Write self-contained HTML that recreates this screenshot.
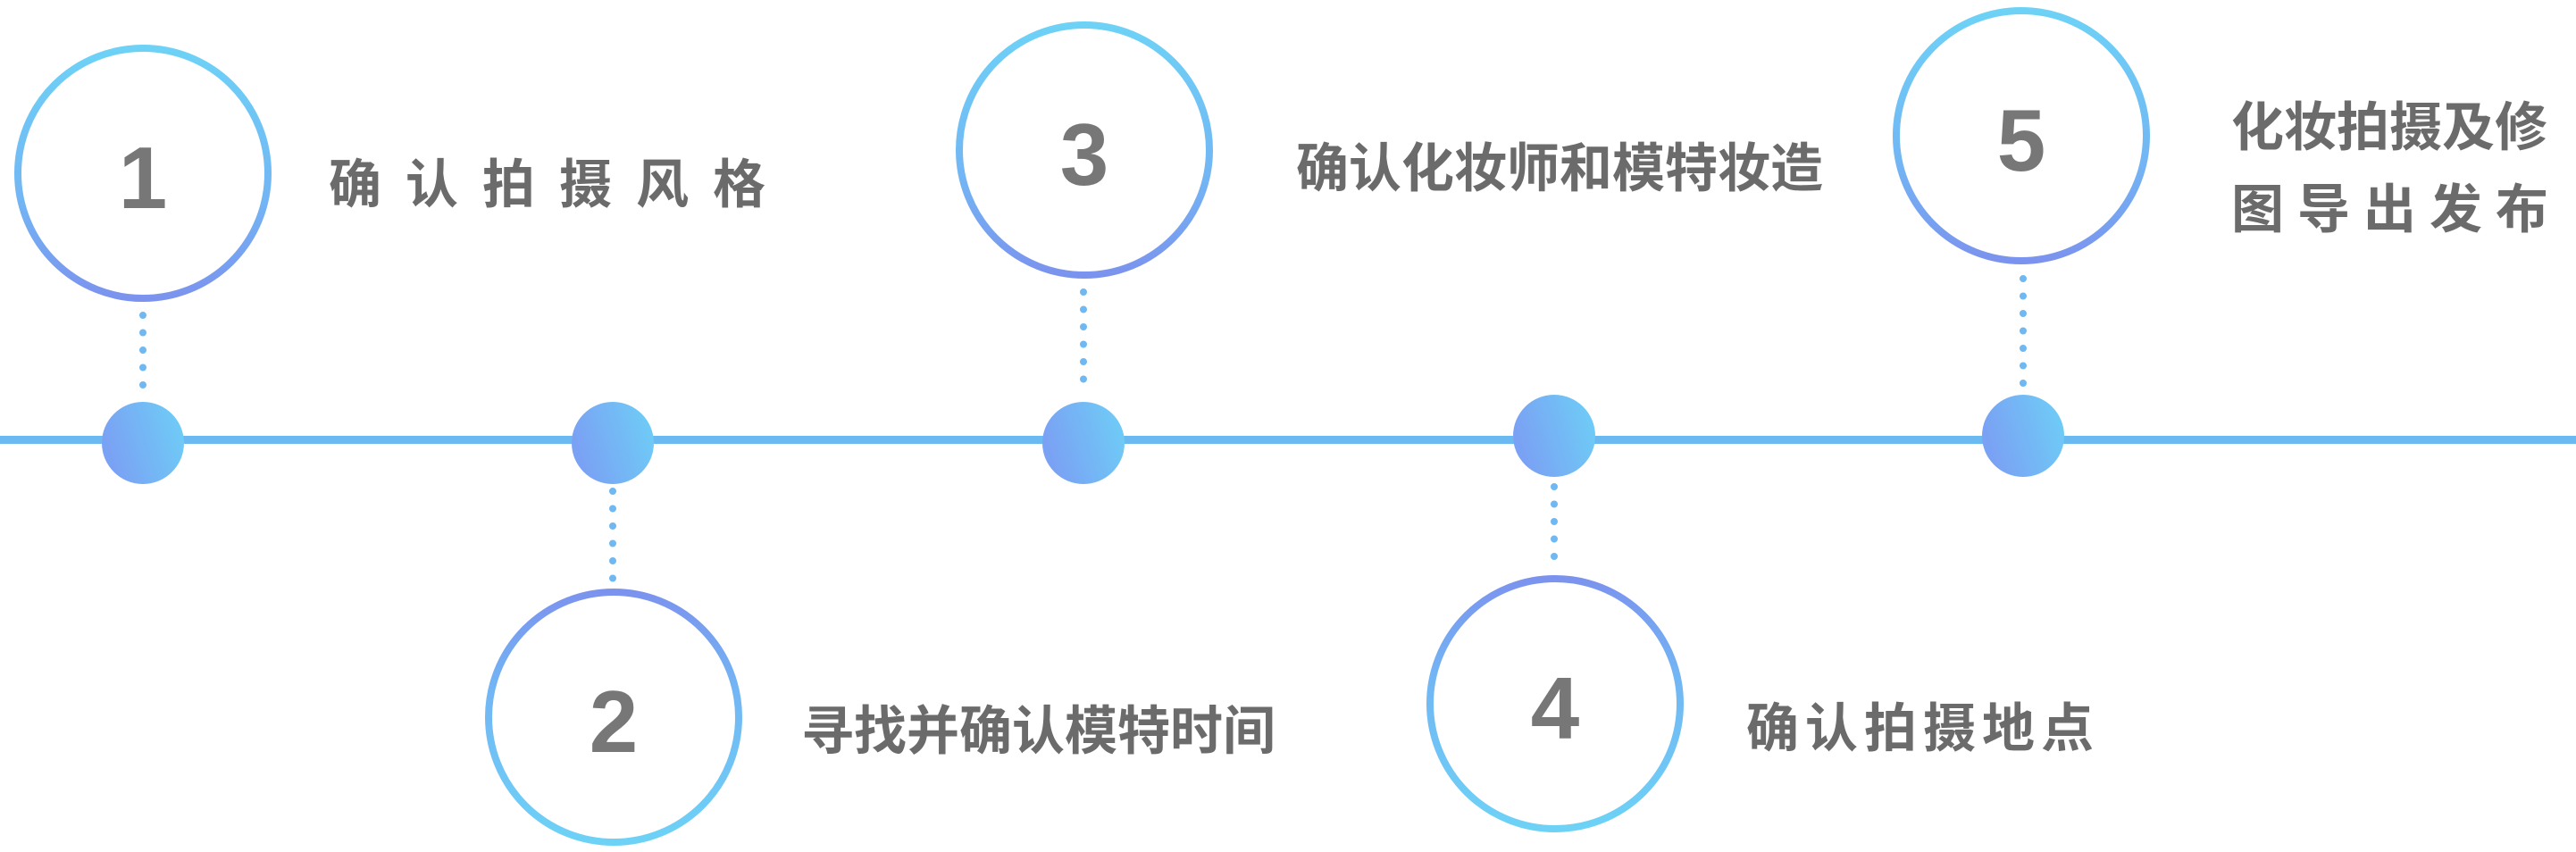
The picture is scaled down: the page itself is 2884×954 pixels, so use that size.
<!DOCTYPE html>
<html><head><meta charset="utf-8"><style>
html,body{margin:0;padding:0;background:#fff;}
svg{display:block;}
text{font-family:"Liberation Sans","Noto Sans CJK SC",sans-serif;font-weight:bold;fill:#6b6b6b;}
</style></head><body>
<svg width="2884" height="954" viewBox="0 0 2884 954" xmlns="http://www.w3.org/2000/svg">
<defs>
<linearGradient id="gt" x1="0" y1="0" x2="0" y2="1"><stop offset="0" stop-color="#6dd2f6"/><stop offset="0.6" stop-color="#72b6f4"/><stop offset="1" stop-color="#7b93ee"/></linearGradient>
<linearGradient id="gb" x1="0" y1="0" x2="0" y2="1"><stop offset="0" stop-color="#7b93ee"/><stop offset="0.4" stop-color="#72b6f4"/><stop offset="1" stop-color="#6dd2f6"/></linearGradient>
<linearGradient id="gd" x1="0" y1="0.3" x2="1" y2="0"><stop offset="0" stop-color="#7aa2f4"/><stop offset="1" stop-color="#6dd0f6"/></linearGradient>
</defs>
<rect x="0" y="488" width="2884" height="9" fill="#6bb9f1"/>
<g stroke="#6fb8f2" stroke-width="8" stroke-linecap="round" stroke-dasharray="0 19.5" fill="none">
<line x1="160" y1="353" x2="160" y2="440"/>
<line x1="1213" y1="327" x2="1213" y2="440"/>
<line x1="2265" y1="312" x2="2265" y2="432"/>
<line x1="686" y1="550" x2="686" y2="650"/>
<line x1="1740" y1="545" x2="1740" y2="635"/>
</g>
<g fill="url(#gd)">
<circle cx="160" cy="496" r="46"/>
<circle cx="686" cy="496" r="46"/>
<circle cx="1213" cy="496" r="46"/>
<circle cx="1740" cy="488" r="46"/>
<circle cx="2265" cy="488" r="46"/>
</g>
<g fill="#fff" stroke-width="8">
<circle cx="160" cy="194" r="140" stroke="url(#gt)"/>
<circle cx="1214" cy="168" r="140" stroke="url(#gt)"/>
<circle cx="2263" cy="152" r="140" stroke="url(#gt)"/>
<circle cx="687" cy="803" r="140" stroke="url(#gb)"/>
<circle cx="1741" cy="788" r="140" stroke="url(#gb)"/>
</g>
<g font-size="98" text-anchor="middle" fill="#777">
<text x="160" y="233" style="fill:#777">1</text>
<text x="1214" y="207" style="fill:#777">3</text>
<text x="2263" y="191" style="fill:#777">5</text>
<text x="687" y="842" style="fill:#777">2</text>
<text x="1741" y="827" style="fill:#777">4</text>
</g>
<g font-size="59">
<text x="368" y="227" letter-spacing="27">确认拍摄风格</text>
<text x="897" y="839">寻找并确认模特时间</text>
<text x="1451" y="209">确认化妆师和模特妆造</text>
<text x="2498" y="163">化妆拍摄及修</text>
<text x="2498" y="255" letter-spacing="15">图导出发布</text>
<text x="1955" y="836" letter-spacing="7">确认拍摄地点</text>
</g>
</svg>
</body></html>
